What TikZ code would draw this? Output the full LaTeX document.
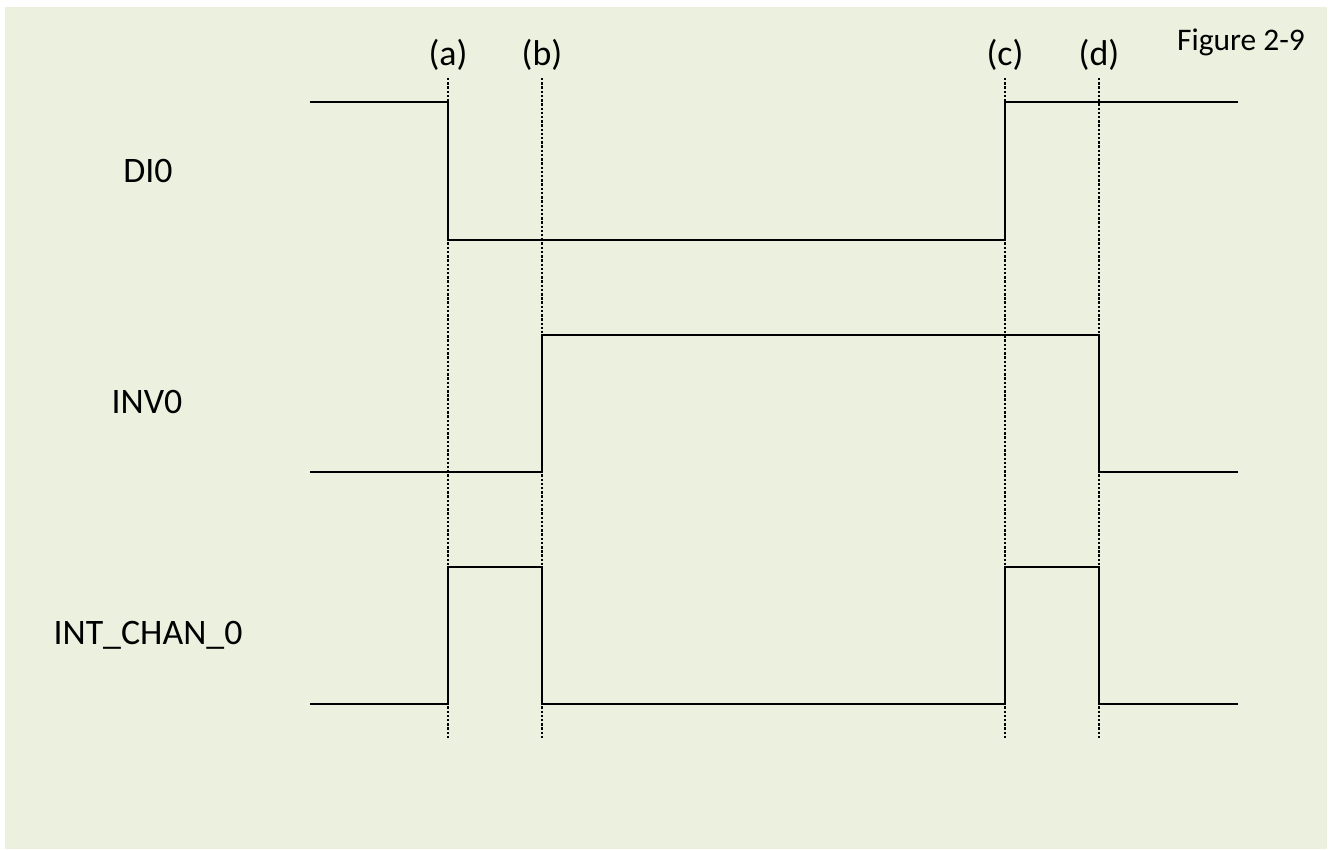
\documentclass[tikz,border=0pt]{standalone}
\usepackage{fontspec}
\setmainfont{Carlito}
\definecolor{paper}{HTML}{EBF1DE}
\tikzset{
  signal/.style={
    black,
    line width=1pt,
  },
  marker/.style={
    black,
    line width=0.7pt,
    dash pattern=on 1.4pt off 1pt,
  },
  sigtext/.style={
    anchor=base,
    inner sep=0pt,
    font=\fontsize{20.4}{24}\selectfont,
  },
  figtext/.style={
    anchor=base,
    inner sep=0pt,
    font=\fontsize{17.9}{21}\selectfont,
  }
}

\begin{document}
\begin{tikzpicture}[x=0.02cm,y=-0.02cm]
\useasboundingbox (0,0) rectangle (1334,849);
\fill[paper] (5,7) rectangle (1327,849);
% time marks
\coordinate (ta) at (448,78);
\coordinate (tb) at (542,78);
\coordinate (tc) at (1005,78);
\coordinate (td) at (1099,78);
\foreach \t in {a,b,c,d} {
  \draw[marker] (t\t) -- (t\t |- 0,738);
  \node[sigtext] (lbl\t) at (t\t |- 0,65) {(\t)};
}
% waveforms
\draw[signal] (310,102) -| (ta |- 0,240) -| (tc |- 0,102) -- (1238,102);
\draw[signal] (310,472) -| (tb |- 0,335) -| (td |- 0,472) -- (1238,472);
\draw[signal] (310,704) -| (ta |- 0,567) -| (tb |- 0,704) -| (tc |- 0,567) -| (td |- 0,704) -- (1238,704);
% names
\node[sigtext] (di) at (148,182) {DI0};
\node[sigtext] (inv) at (147,413) {INV0};
\node[sigtext] (intchan) at (148,644) {INT\_CHAN\_0};
\node[figtext] (fig) at (1241,50) {Figure 2-9};
\end{tikzpicture}
\end{document}
